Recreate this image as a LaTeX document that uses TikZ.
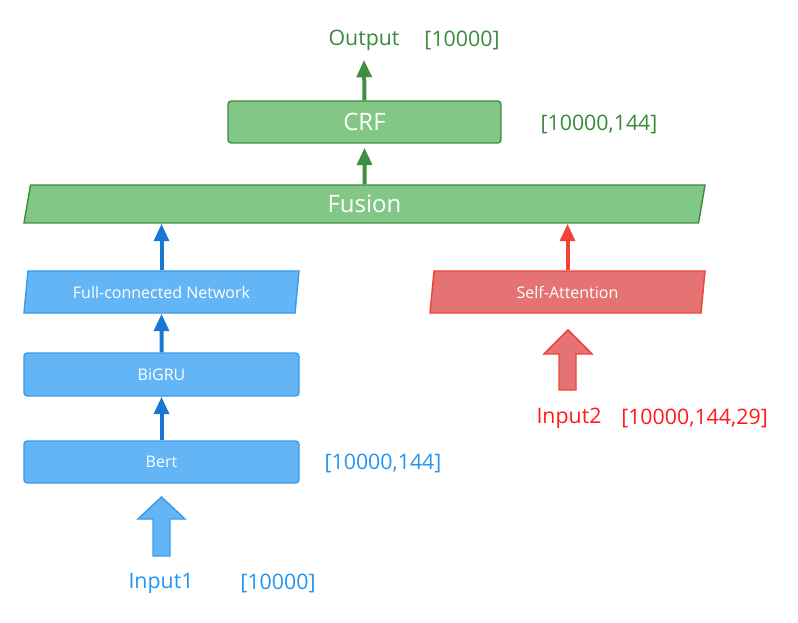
\documentclass[tikz,border=0pt]{standalone}
\usepackage{fontspec}
\setmainfont{Open Sans}
\usetikzlibrary{arrows.meta,shapes.geometric}
\definecolor{gfill}{HTML}{82C785}
\definecolor{gline}{HTML}{3E8E41}
\definecolor{gtext}{HTML}{3A8A3A}
\definecolor{bfill}{HTML}{64B5F6}
\definecolor{bline}{HTML}{3A9BEA}
\definecolor{barrow}{HTML}{1976D2}
\definecolor{btext}{HTML}{2196F3}
\definecolor{rfill}{HTML}{E57373}
\definecolor{rline}{HTML}{F44336}
\definecolor{rtext}{HTML}{FF1A1A}

\tikzset{
  layer/.style={draw, line width=1.1pt, text=white, inner sep=0pt},
  flatbox/.style={layer, rectangle, rounded corners=2.5pt},
  slantbox/.style={layer, trapezium, trapezium stretches body,
    trapezium left angle=72, trapezium right angle=108},
  greenlayer/.style={fill=gfill, draw=gline},
  bluelayer/.style={fill=bfill, draw=bline, minimum width=206.25pt,
    font=\fontsize{12}{14}\selectfont},
  flow/.style={line width=3pt, -{Triangle[width=11pt,length=13pt]}},
  sizelbl/.style={font=\fontsize{16}{18}\selectfont, inner sep=0pt}
}

\begin{document}
\begin{tikzpicture}[x=0.75pt, y=-0.75pt]
  \useasboundingbox (0,0) rectangle (798,623);

  % Fusion and CRF
  \node[slantbox, greenlayer, trapezium left angle=70, trapezium right angle=110,
    minimum width=510.75pt, minimum height=28.5pt, font=\fontsize{18}{20}\selectfont]
    (fusion) at (364.5,204) {Fusion};
  \node[flatbox, greenlayer, minimum width=204.75pt, minimum height=31.5pt,
    font=\fontsize{18}{20}\selectfont] (crf) at (364.5,122) {CRF};

  % Blue branch
  \node[slantbox, bluelayer, minimum height=31.5pt] (fcn) at (161.5,292) {Full-connected Network};
  \node[flatbox, bluelayer, minimum height=32.25pt] (bigru) at (161.5,374.5) {BiGRU};
  \node[flatbox, bluelayer, minimum height=31.5pt] (bert) at (161.5,462) {Bert};

  % Red branch
  \node[slantbox, fill=rfill, draw=rline, minimum width=206.25pt, minimum height=31.5pt,
    font=\fontsize{12}{14}\selectfont] (selfatt) at (567.5,292) {Self-Attention};

  % Labels
  \node[sizelbl, gtext] (outlbl) at (364,40) {Output};
  \node[sizelbl, gtext] at (462,40) {[10000]};
  \node[sizelbl, gtext] at (599,124) {[10000,144]};
  \node[sizelbl, btext] at (383,463) {[10000,144]};
  \node[sizelbl, btext] (in1) at (161,583) {Input1};
  \node[sizelbl, btext] at (278,583) {[10000]};
  \node[sizelbl, rtext] (in2) at (569,418) {Input2};
  \node[sizelbl, rtext] at (694.5,418) {[10000,144,29]};

  % Input block arrows
  \filldraw[fill=bfill, draw=bline, line width=1.1pt]
    (161.5,497) -- (185,519) -- (170,519) -- (170,556) -- (153,556) -- (153,519) -- (138,519) -- cycle;
  \filldraw[fill=rfill, draw=rline, line width=1.1pt]
    (568,330) -- (592,354) -- (576,354) -- (576,390) -- (559,390) -- (559,354) -- (544,354) -- cycle;

  % Connectors
  \draw[flow, barrow] (bert.north) -- (bigru.south);
  \draw[flow, barrow] (bigru.north) -- (fcn.south);
  \draw[flow, barrow] (fcn.north) -- (fcn.north |- fusion.south);
  \draw[flow, rline] (selfatt.north) -- (selfatt.north |- fusion.south);
  \draw[flow, gline] (fusion.north) -- ([yshift=-3pt]crf.south);
  \draw[flow, gline] (crf.north) -- ([yshift=-7pt]outlbl.south);
\end{tikzpicture}
\end{document}
